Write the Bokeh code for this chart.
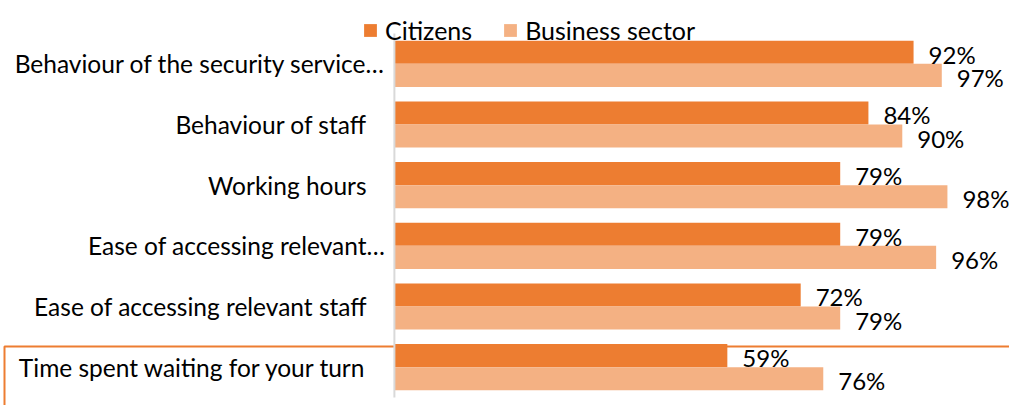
from bokeh.plotting import figure
from bokeh.models import ColumnDataSource, Range1d, LabelSet, Legend, LegendItem, BoxAnnotation
from bokeh.transform import dodge
from bokeh.core.properties import value
from bokeh.embed import file_html
from bokeh.resources import INLINE

categories = [
    "Behaviour of the security service\u2026",
    "Behaviour of staff\u00a0\u00a0\u00a0",
    "Working hours\u00a0\u00a0\u00a0",
    "Ease of accessing relevant\u2026",
    "Ease of accessing relevant staff\u00a0\u00a0\u00a0",
    "Time spent waiting for your turn\u00a0\u00a0\u00a0",
]
citizens = [92, 84, 79, 79, 72, 59]
business = [97, 90, 98, 96, 79, 76]
series_names = ["Citizens", "Business sector"]

C1 = "#ED7D31"
C2 = "#F4B183"
FONT = "Lato"

n = len(categories)
src = ColumnDataSource(dict(
    idx=list(range(n)),
    cat=categories,
    cit=citizens,
    bus=business,
    zero=[0] * n,
    cit_lbl=[f"{v}%" for v in citizens],
    bus_lbl=[f"{v}%" for v in business],
))

# full-canvas frame; category rows are indices 0 (top) .. n-1 (bottom)
p = figure(
    width=1009, height=405,
    x_range=Range1d(-69.8, 109.0),
    y_range=Range1d(5.632, -1.044),
    output_backend="svg", toolbar_location=None,
    min_border=0,
)
p.outline_line_color = None
p.xgrid.visible = False
p.ygrid.visible = False
p.xaxis.visible = False
p.yaxis.visible = False

box = BoxAnnotation(left=4, right=1012, top=346, bottom=412,
                    left_units="canvas", right_units="canvas",
                    top_units="canvas", bottom_units="canvas",
                    fill_alpha=0, line_color=C1, line_alpha=1.0, line_width=2,
                    level="underlay")
p.add_layout(box)

r1 = p.hbar(y=dodge("idx", -0.19), right="cit", left=0, height=0.38,
            source=src, fill_color=C1, line_color=None)
r2 = p.hbar(y=dodge("idx", 0.19), right="bus", left=0, height=0.38,
            source=src, fill_color=C2, line_color=None)

# category axis line
p.segment(x0=0, x1=0, y0=-0.5, y1=n - 0.5, line_color="#D9D9D9", line_width=2)

# category labels
p.text(x="zero", y="idx", text="cat", source=src, x_offset=-9,
       text_align="right", text_baseline="middle",
       text_font=value(FONT), text_font_size="24.5px", text_color="#000000")

for col, lbl, off in [("cit", "cit_lbl", -0.19), ("bus", "bus_lbl", 0.19)]:
    ls = LabelSet(x=col, y=dodge("idx", off), text=lbl, source=src,
                  x_offset=15, y_offset=-2, text_baseline="middle",
                  text_font=value(FONT), text_font_size="24px", text_color="#000000")
    p.add_layout(ls)

legend = Legend(items=[LegendItem(label=series_names[0], renderers=[r1]),
                       LegendItem(label=series_names[1], renderers=[r2])],
                orientation="horizontal", location=(362, 360),
                glyph_width=16, glyph_height=16, label_standoff=7, spacing=30,
                padding=0, margin=0, border_line_color=None, background_fill_alpha=0,
                label_text_font=FONT, label_text_font_size="25px", label_text_color="#000000")
p.add_layout(legend, "center")

open("out.html", "w").write(file_html(p, INLINE))
